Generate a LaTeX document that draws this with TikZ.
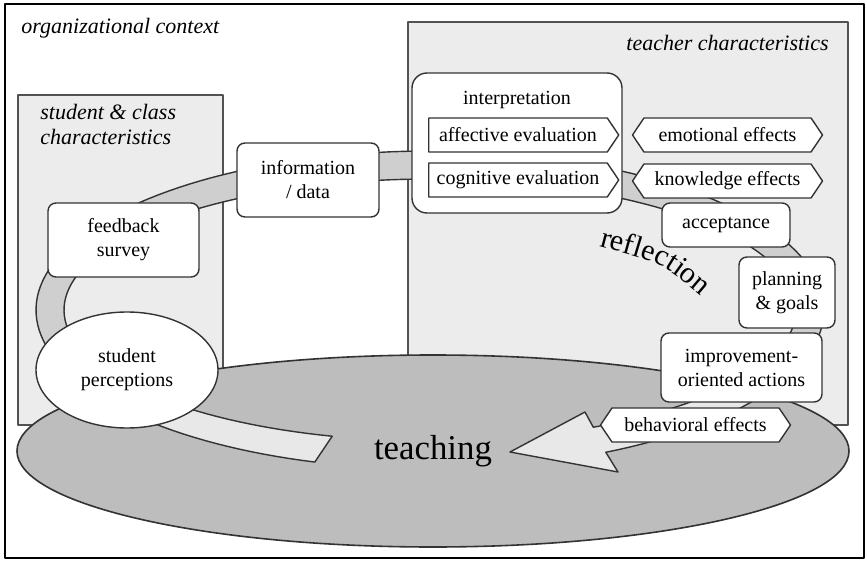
\documentclass[tikz,border=0pt]{standalone}
\usepackage{fontspec}
\setmainfont{LiberationSerif}[Extension=.ttf,UprightFont=*-Regular,ItalicFont=*-Italic,BoldFont=*-Bold,BoldItalicFont=*-BoldItalic]
\usepackage{xcolor}
\usetikzlibrary{shapes.symbols,shapes.geometric,decorations.text}
\definecolor{boxgray}{HTML}{ECECEC}
\definecolor{bandgray}{HTML}{CFCFCF}
\definecolor{bandlight}{HTML}{E8E8E8}
\definecolor{teachgray}{HTML}{BDBDBD}
\definecolor{edgegray}{HTML}{333333}
\tikzstyle{backbox}=[draw=edgegray!85,fill=boxgray,line width=0.8pt]
\tikzstyle{context}=[font=\fontsize{11}{12.5}\selectfont\itshape,inner sep=0pt]
\tikzstyle{stepbox}=[draw=edgegray,fill=white,line width=0.7pt,rounded corners=4pt,align=center,inner sep=0pt]
\tikzstyle{evalsig}=[draw=edgegray,fill=white,line width=0.7pt,signal,signal to=east,signal pointer angle=112,minimum width=95pt,minimum height=17pt,inner sep=0pt]
\tikzstyle{effectsig}=[evalsig,signal to=east and west]
\tikzstyle{bandline}=[draw=edgegray,line width=0.7pt]
\newcommand{\loopband}{plot[domain=107:423.5,samples=160] ({430+394*cos(\x)},{310+159*sin(\x)}) -- (618,472) -- (510,452) -- (585,412) -- plot[domain=423.5:105.5,samples=160] ({430+366*cos(\x)},{310+131*sin(\x)}) -- cycle}

\begin{document}
\begin{tikzpicture}[x=0.5pt,y=-0.5pt,line join=round]
\useasboundingbox (0,0) rectangle (867,561);
\draw[line width=0.9pt] (5,4) rectangle (864,558);
\draw[backbox] (18,95) rectangle (223,425);
\draw[backbox] (408,22) rectangle (848,425);
\node[context,anchor=west] (orgctx) at (21,28) {organizational context};
\node[context,anchor=north west,align=left] (classctx) at (40,104) {student \& class\\characteristics};
\node[context,anchor=east] (teacherctx) at (829,43) {teacher characteristics};
\node[draw=edgegray,fill=teachgray,line width=0.8pt,ellipse,minimum width=416pt,minimum height=96pt,inner sep=0pt,font=\fontsize{17.4}{20}\selectfont] (teaching) at (433,451) {teaching};
\fill[bandgray] \loopband;
\begin{scope}
\clip (433,451) ellipse [x radius=416,y radius=96];
\fill[bandlight] \loopband;
\end{scope}
\draw[bandline] \loopband;
\path[decorate,decoration={text along path,text align=center,text={|\fontsize{15}{15}\selectfont|reflection}}] (598,246) .. controls (662,263) .. (702,297);
\node[draw=edgegray,fill=white,line width=0.7pt,ellipse,minimum width=91pt,minimum height=58pt,inner sep=0pt,align=center] (percept) at (127,370) {student\\perceptions};
\node[stepbox,minimum width=75.5pt,minimum height=37pt] (survey) at (123.5,240) {feedback\\survey};
\node[stepbox,minimum width=71pt,minimum height=37pt] (data) at (308,180) {information\\/ data};
\node[stepbox,rounded corners=7.5pt,minimum width=105pt,minimum height=70pt] (interp) at (517,143) {};
\node[inner sep=0pt] (interptitle) at (517,100) {interpretation};
\node[evalsig] (affective) at (518,135) {affective evaluation};
\node[evalsig] (cognitive) at (518,180) {cognitive evaluation};
\node[effectsig] (emotional) at (727.5,135) {emotional effects};
\node[effectsig] (knowledge) at (727.5,181) {knowledge effects};
\node[stepbox,minimum width=64pt,minimum height=22pt] (accept) at (726,225) {acceptance};
\node[stepbox,minimum width=48pt,minimum height=35.5pt] (planning) at (787,292.5) {planning\\\& goals};
\node[stepbox,minimum width=80.5pt,minimum height=34.5pt] (improve) at (741.5,367.5) {improvement-\\oriented actions};
\node[effectsig] (behavior) at (695.5,425) {behavioral effects};
\end{tikzpicture}
\end{document}
